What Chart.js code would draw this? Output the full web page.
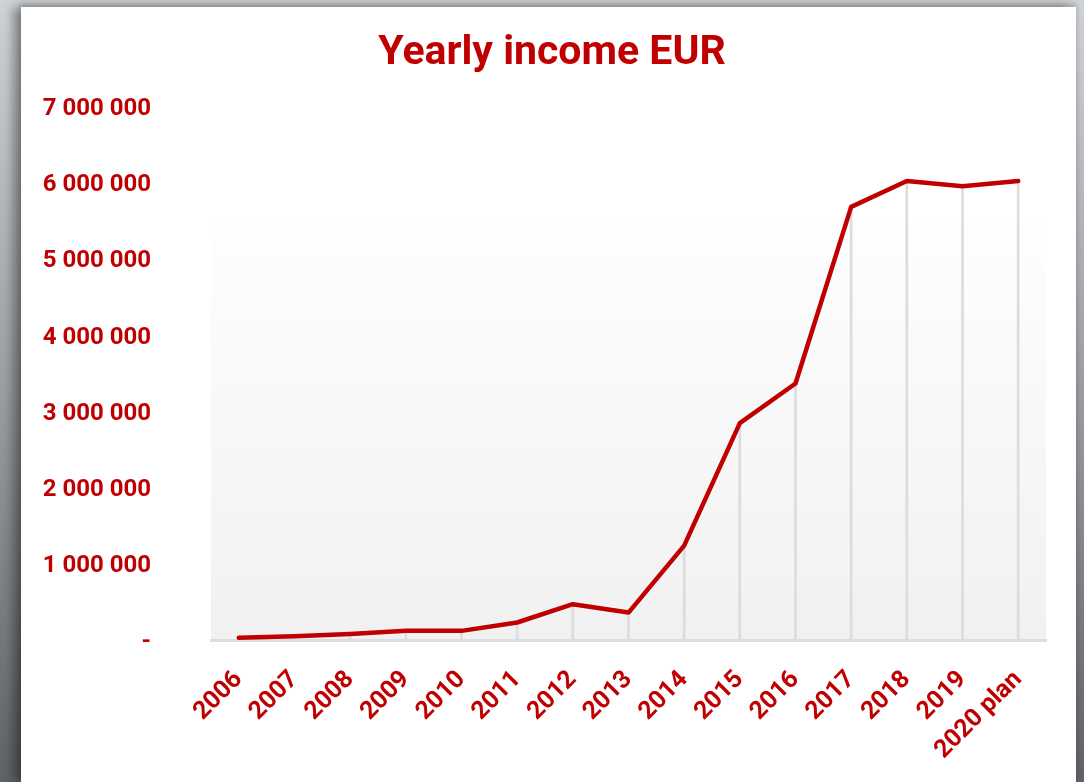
<!DOCTYPE html>
<html>
<head>
<meta charset="utf-8">
<script src="https://cdn.jsdelivr.net/npm/chart.js@4/dist/chart.umd.min.js"></script>
<style>
  html, body { margin: 0; padding: 0; }
  body {
    width: 1084px; height: 782px; overflow: hidden; position: relative;
    background: linear-gradient(to bottom, #cfd3d7 0%, #9a9da1 50%, #5f6266 100%);
  }
  .card {
    position: absolute; left: 21px; top: 7px; width: 1055px; height: 775px;
    background: #fff;
    box-shadow: -8px 0 10px rgba(0,0,0,0.35), 0 -3px 6px rgba(0,0,0,0.2);
  }
  canvas { display: block; position: absolute; left: 21px; top: 7px; }
</style>
</head>
<body>
<div class="card"></div>
<canvas id="chart" width="1062" height="775"></canvas>
<script>
// data
const years = ['2006', '2007', '2008', '2009', '2010', '2011', '2012', '2013',
               '2014', '2015', '2016', '2017', '2018', '2019', '2020 plan'];
const income = [30000, 50000, 80000, 120000, 120000, 230000, 470000, 360000,
                1240000, 2850000, 3370000, 5690000, 6030000, 5960000, 6030000];
const yTicks = [0, 1000000, 2000000, 3000000, 4000000, 5000000, 6000000, 7000000];

const RED = '#c00000';
const FONT = 'Roboto, "DejaVu Sans", sans-serif';

function fmt(v) {
  if (v === 0) return '-';
  return String(v).replace(/\B(?=(\d{3})+(?!\d))/g, ' ');
}

// soft grey fade behind the lower part of the plot
const fadeBg = {
  id: 'fadeBg',
  beforeDraw(chart) {
    const { ctx, chartArea } = chart;
    const top = chart.scales.y.getPixelForValue(5500000);
    const g = ctx.createLinearGradient(0, top, 0, chartArea.bottom);
    g.addColorStop(0, '#fefefe');
    g.addColorStop(1, '#f1f1f1');
    ctx.save();
    ctx.fillStyle = g;
    ctx.fillRect(chartArea.left, top, chartArea.right - chartArea.left, chartArea.bottom - top);
    ctx.restore();
  }
};

new Chart(document.getElementById('chart'), {
  type: 'line',
  data: {
    labels: years,
    datasets: [
      {
        type: 'line', data: income, order: 1,
        borderColor: RED, borderWidth: 4.5, pointRadius: 0, tension: 0,
        borderCapStyle: 'round', borderJoinStyle: 'round'
      },
      {
        // thin drop lines under each point
        type: 'bar', data: income, order: 2,
        backgroundColor: '#dcdcdc', barThickness: 2
      }
    ]
  },
  options: {
    responsive: false,
    animation: false,
    layout: { padding: 0 },
    plugins: {
      legend: { display: false },
      tooltip: { enabled: false },
      title: {
        display: true, text: 'Yearly income EUR', color: RED,
        font: { family: FONT, size: 41, weight: 'bold' },
        padding: { top: 22, bottom: 29 }
      }
    },
    scales: {
      x: {
        offset: true,
        grid: { display: false },
        border: { display: true, color: '#dddddd', width: 3 },
        ticks: {
          color: RED, font: { family: FONT, size: 25, weight: 'bold' },
          maxRotation: 45, minRotation: 45, padding: 17, autoSkip: false
        },
        afterFit(s) { s.height = 142; }
      },
      y: {
        min: 0, max: 7000000,
        afterBuildTicks(s) { s.ticks = yTicks.map(v => ({ value: v })); },
        grid: { display: false, drawTicks: false },
        border: { display: false },
        ticks: {
          color: RED, font: { family: FONT, size: 24, weight: 'bold' },
          padding: 60, labelOffset: 2, callback: v => fmt(v)
        },
        afterFit(s) { s.width = 190; }
      },
      // empty spacer on the right so the title sits where the original has it
      spacer: {
        type: 'linear', position: 'right',
        grid: { display: false }, border: { display: false },
        ticks: { display: false },
        afterFit(s) { s.width = 37; }
      }
    }
  },
  plugins: [fadeBg]
});
</script>
</body>
</html>
